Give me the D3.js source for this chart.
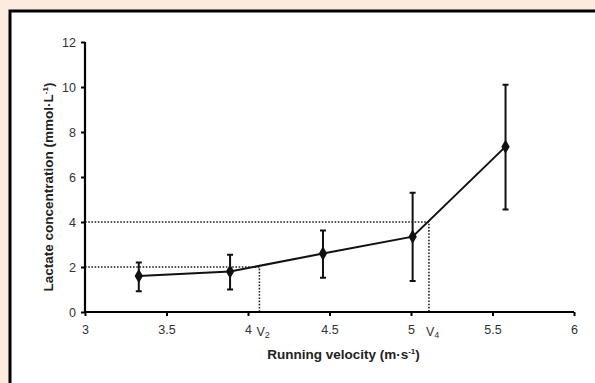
<!DOCTYPE html>
<html>
<head>
<meta charset="utf-8">
<script src="https://cdn.jsdelivr.net/npm/d3@7"></script>
<style>
  body { margin: 0; background: #fdebe0; }
  svg { display: block; font-family: "Liberation Sans", Arial, sans-serif; }
</style>
</head>
<body>
<svg id="chart"></svg>
<script>
// data
const velocity = [3.33, 3.89, 4.46, 5.01, 5.58];
const lactate = [1.6, 1.8, 2.6, 3.35, 7.35];
const errUpper = [2.2, 2.55, 3.62, 5.3, 10.1];
const errLower = [0.92, 1.0, 1.52, 1.38, 4.56];
const xTicks = [3, 3.5, 4, 4.5, 5, 5.5, 6];
const yTicks = [0, 2, 4, 6, 8, 10, 12];
const thresholds = [
  {name: 'V', sub: '2', level: 2, v: 4.07},
  {name: 'V', sub: '4', level: 4, v: 5.11}
];

const width = 595, height = 383;
const margin = {top: 42, right: 21, bottom: 71, left: 85};

const svg = d3.select('#chart')
  .attr('width', width)
  .attr('height', height);

// white panel with black frame on left and top
svg.append('rect')
  .attr('x', 10).attr('y', 11)
  .attr('width', width - 10).attr('height', height - 11)
  .attr('fill', '#fff');
svg.append('path')
  .attr('d', `M10,${height} V11 H${width}`)
  .attr('fill', 'none')
  .attr('stroke', '#000')
  .attr('stroke-width', 3);

const w = width - margin.left - margin.right;
const h = height - margin.top - margin.bottom;

const x = d3.scaleLinear().domain([3, 6]).range([0, w]);
const y = d3.scaleLinear().domain([0, 12]).range([h, 0]);

const chart = svg.append('g')
  .attr('transform', `translate(${margin.left},${margin.top})`);

// dotted threshold guides
thresholds.forEach(t => {
  chart.append('path')
    .attr('d', `M0,${y(t.level)} H${x(t.v)} V${h}`)
    .attr('fill', 'none')
    .attr('stroke', '#222')
    .attr('stroke-width', 1.6)
    .attr('stroke-dasharray', '1.6,1.6');
});

// axes
const xAxis = d3.axisBottom(x).tickValues(xTicks).tickSize(4).tickPadding(9)
  .tickFormat(d3.format('~g'));
const yAxis = d3.axisLeft(y).tickValues(yTicks).tickSize(4).tickPadding(5)
  .tickFormat(d3.format('d'));

const xg = chart.append('g').attr('transform', `translate(0,${h})`).call(xAxis);
const yg = chart.append('g').call(yAxis);
[xg, yg].forEach(g => {
  g.select('.domain').attr('stroke-width', 2.2).attr('d',
    g === xg ? `M0,0H${w}` : `M0,${h}V0`);
  g.selectAll('.tick line').attr('stroke-width', 2);
  g.selectAll('.tick text').attr('font-size', 12.5).attr('fill', '#333')
    .attr('font-family', '"Liberation Sans", Arial, sans-serif');
});

// V2 / V4 labels under the axis
thresholds.forEach(t => {
  const lab = chart.append('text')
    .attr('x', x(t.v) - 3)
    .attr('y', h + 24)
    .attr('font-size', 12.5)
    .attr('fill', '#333');
  lab.append('tspan').text(t.name);
  lab.append('tspan').attr('font-size', 9).attr('dy', 2).text(t.sub);
});

// error bars
const pts = velocity.map((v, i) => ({v, l: lactate[i], hi: errUpper[i], lo: errLower[i]}));
chart.selectAll('.err').data(pts).join('path')
  .attr('class', 'err')
  .attr('d', d => `M${x(d.v) - 3},${y(d.hi)}H${x(d.v) + 3}M${x(d.v)},${y(d.hi)}V${y(d.lo)}M${x(d.v) - 3},${y(d.lo)}H${x(d.v) + 3}`)
  .attr('fill', 'none')
  .attr('stroke', '#111')
  .attr('stroke-width', 2);

// connecting line
chart.append('path')
  .datum(pts)
  .attr('d', d3.line().x(d => x(d.v)).y(d => y(d.l)))
  .attr('fill', 'none')
  .attr('stroke', '#111')
  .attr('stroke-width', 2);

// diamond markers
chart.selectAll('.pt').data(pts).join('path')
  .attr('class', 'pt')
  .attr('transform', d => `translate(${x(d.v)},${y(d.l)})`)
  .attr('d', d3.symbol(d3.symbolDiamond, 60))
  .attr('fill', '#111');

// axis titles
const xt = chart.append('text')
  .attr('x', w / 2 + 14)
  .attr('y', h + 47)
  .attr('text-anchor', 'middle')
  .attr('font-size', 13.5)
  .attr('font-weight', 'bold')
  .attr('fill', '#222');
xt.append('tspan').text('Running velocity (m·s');
xt.append('tspan').attr('font-size', 8).attr('dy', -5).text('-1');
xt.append('tspan').attr('dy', 5).text(')');

const yt = svg.append('text')
  .attr('transform', `translate(53,187) rotate(-90)`)
  .attr('text-anchor', 'middle')
  .attr('font-size', 13.5)
  .attr('font-weight', 'bold')
  .attr('fill', '#222');
yt.append('tspan').text('Lactate concentration (mmol·L');
yt.append('tspan').attr('font-size', 8).attr('dy', -5).text('-1');
yt.append('tspan').attr('dy', 5).text(')');
</script>
</body>
</html>
